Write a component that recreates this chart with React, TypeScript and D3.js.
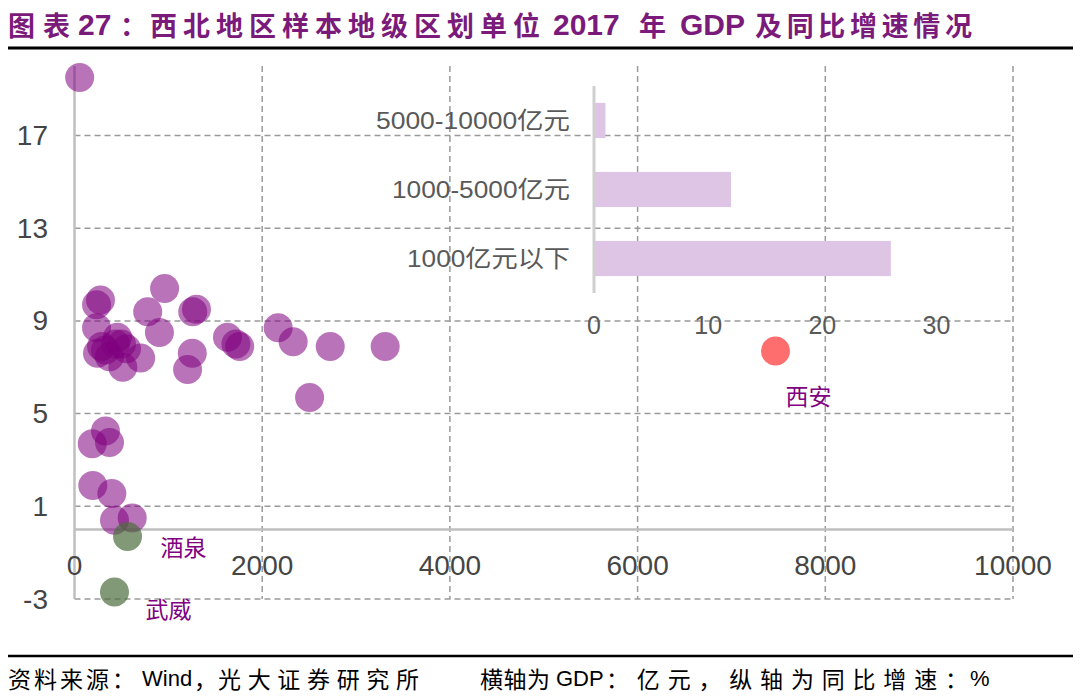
import React from "react";
import * as d3 from "d3";

// ---- data ----
const cityGdp = [
  55, 277, 235, 960, 780, 1300, 1260, 235, 905, 2170, 2330, 2725, 3310, 2505,
  1630, 1760, 1720, 1255, 1205, 705, 515,
  458, 554, 437, 330, 245, 373, 288, 501,
  330, 189, 373, 195, 398, 426, 615,
];
const cityGrowth = [
  19.5, 9.9, 9.7, 10.4, 9.4, 9.5, 9.4, 8.7, 8.5, 8.7, 8.1, 7.9, 7.9, 5.7,
  8.3, 7.9, 8.0, 7.6, 6.9, 7.4, 7.0,
  8.3, 7.8, 8.0, 7.75, 7.6, 7.45, 7.9, 8.0,
  4.25, 3.7, 3.75, 1.9, 1.55, 0.4, 0.5,
];
const negNames = ["酒泉", "武威"];
const negGdp = [565, 426];
const negGrowth = [-0.3, -2.7];
const capitalName = "西安";
const capitalGdp = [7469];
const capitalGrowth = [7.7];

const yTicks = [17, 13, 9, 5, 1, -3];
const xTicks = [0, 2000, 4000, 6000, 8000, 10000];

const barCats = ["5000-10000亿元", "1000-5000亿元", "1000亿元以下"];
const barCounts = [1, 12, 26];
const barTicks = [0, 10, 20, 30];

// title / footer pieces: [text, x, width (0 = natural), cjk?]
const titleParts: [string, number, number, boolean][] = [
  ["图表", 8, 62, true],
  ["27", 78, 0, false],
  ["：", 120, 0, true],
  ["西北地区样本地级区划单位", 150, 390, true],
  ["2017", 553, 0, false],
  ["年", 639, 0, true],
  ["GDP", 680, 0, false],
  ["及同比增速情况", 755, 217, true],
];
const footerParts: [string, number, number, boolean][] = [
  ["资料来源：", 8, 127, true],
  ["Wind", 142, 0, false],
  ["，", 194, 0, true],
  ["光大证券研究所", 218, 201, true],
  ["横轴为", 480, 70, true],
  ["GDP", 556, 0, false],
  ["：亿元，纵轴为同比增速：", 606, 362, true],
  ["%", 970, 0, false],
];
const barLabelWidths = [194, 178, 163];

const FONT = "'Liberation Sans', Arial, 'Noto Sans CJK SC', sans-serif";
const CJK = "'Noto Sans CJK SC', sans-serif";

export default function App() {
  const x = d3.scaleLinear().domain([0, 10000]).range([74.5, 1013]);
  const y = d3.scaleLinear().domain([-3, 20]).range([599, 66]);
  const bx = d3.scaleLinear().domain([0, 30]).range([594, 936.5]);
  const by = d3.scaleBand().domain(barCats).range([86, 293]).paddingInner(0.49).paddingOuter(0.245);
  const r = 14.5;
  const grid = "#9a9a9a";
  const purple = "#800080";
  const tick = "#454545";

  return (
    <svg
      width={1080}
      height={699}
      style={{ position: "absolute", left: 0, top: 0, background: "#fff" }}
    >
      <rect x={0} y={0} width={1080} height={699} fill="#fff" />
      {/* title */}
      {titleParts.map(([t, px, w, cjk], i) => (
        <text
          key={"t" + i}
          x={px}
          y={24}
          dominantBaseline="central"
          fontFamily={cjk ? CJK : FONT}
          fontWeight="bold"
          fontSize={cjk ? 27 : 30}
          fill="#7a1a7a"
          {...(w ? { textLength: w, lengthAdjust: "spacing" } : {})}
        >
          {t}
        </text>
      ))}
      <line x1={8} x2={1073} y1={48} y2={48} stroke="#000" strokeWidth={3} />

      {/* horizontal grid */}
      {yTicks.map((t) => (
        <line
          key={"hg" + t}
          x1={x(0)}
          x2={x(10000)}
          y1={y(t)}
          y2={y(t)}
          stroke={grid}
          strokeWidth={1.5}
          strokeDasharray="6,4"
        />
      ))}
      {/* vertical grid */}
      {xTicks.slice(1).map((t) => (
        <line
          key={"vg" + t}
          x1={x(t)}
          x2={x(t)}
          y1={y(20)}
          y2={y(-3)}
          stroke={grid}
          strokeWidth={1.5}
          strokeDasharray="6,4"
        />
      ))}
      {/* axes */}
      <line x1={x(0)} x2={x(0)} y1={y(20)} y2={y(-3)} stroke="#bfbfbf" strokeWidth={2.5} />
      <line x1={x(0)} x2={x(10000)} y1={y(0)} y2={y(0)} stroke="#bfbfbf" strokeWidth={2.5} />

      {/* y tick labels */}
      {yTicks.map((t) => (
        <text
          key={"yl" + t}
          x={48}
          y={y(t)}
          textAnchor="end"
          dominantBaseline="central"
          fontFamily={FONT}
          fontSize={28}
          fill={tick}
        >
          {t}
        </text>
      ))}
      {/* x tick labels */}
      {xTicks.map((t) => (
        <text
          key={"xl" + t}
          x={x(t)}
          y={565}
          textAnchor="middle"
          dominantBaseline="central"
          fontFamily={FONT}
          fontSize={28}
          fill={tick}
        >
          {t}
        </text>
      ))}

      {/* inset bar chart */}
      {barCats.map((c, i) => (
        <rect
          key={"bar" + c}
          x={bx(0)}
          y={by(c)}
          width={bx(barCounts[i]) - bx(0)}
          height={by.bandwidth()}
          fill="#dec4e5"
        />
      ))}
      <line x1={bx(0)} x2={bx(0)} y1={86} y2={293} stroke="#cfcfcf" strokeWidth={3} />
      {barCats.map((c, i) => (
        <text
          key={"bl" + c}
          x={570 - barLabelWidths[i]}
          y={(by(c) as number) + by.bandwidth() / 2}
          dominantBaseline="central"
          fontFamily={FONT}
          fontSize={24}
          fill="#595959"
          textLength={barLabelWidths[i]}
          lengthAdjust="spacingAndGlyphs"
        >
          {c}
        </text>
      ))}
      {barTicks.map((t) => (
        <text
          key={"bt" + t}
          x={bx(t)}
          y={325}
          textAnchor="middle"
          dominantBaseline="central"
          fontFamily={FONT}
          fontSize={25}
          fill="#595959"
        >
          {t}
        </text>
      ))}

      {/* city points */}
      {cityGdp.map((g, i) => (
        <circle
          key={"c" + i}
          cx={x(g)}
          cy={y(cityGrowth[i])}
          r={r}
          fill={purple}
          fillOpacity={0.55}
        />
      ))}
      {negGdp.map((g, i) => (
        <circle
          key={"n" + i}
          cx={x(g)}
          cy={y(negGrowth[i])}
          r={r}
          fill="#4b6e3c"
          fillOpacity={0.7}
        />
      ))}
      {capitalGdp.map((g, i) => (
        <circle key={"x" + i} cx={x(g)} cy={y(capitalGrowth[i])} r={r} fill="#ff6e6e" />
      ))}

      {/* point labels */}
      {negGdp.map((g, i) => (
        <text
          key={"nl" + i}
          x={x(g) + (i === 0 ? 56 : 54)}
          y={y(negGrowth[i]) + (i === 0 ? 10 : 16)}
          textAnchor="middle"
          dominantBaseline="central"
          fontFamily={CJK}
          fontSize={23}
          fill={purple}
        >
          {negNames[i]}
        </text>
      ))}
      <text
        x={x(capitalGdp[0]) + 33}
        y={y(capitalGrowth[0]) + 44}
        textAnchor="middle"
        dominantBaseline="central"
        fontFamily={CJK}
        fontSize={23}
        fill={purple}
      >
        {capitalName}
      </text>

      {/* footer */}
      <line x1={8} x2={1073} y1={656} y2={656} stroke="#000" strokeWidth={2.5} />
      {footerParts.map(([t, px, w, cjk], i) => (
        <text
          key={"f" + i}
          x={px}
          y={678}
          dominantBaseline="central"
          fontFamily={cjk ? CJK : FONT}
          fontSize={cjk ? 23 : 22}
          fill="#000"
          {...(w ? { textLength: w, lengthAdjust: "spacing" } : {})}
        >
          {t}
        </text>
      ))}
    </svg>
  );
}
